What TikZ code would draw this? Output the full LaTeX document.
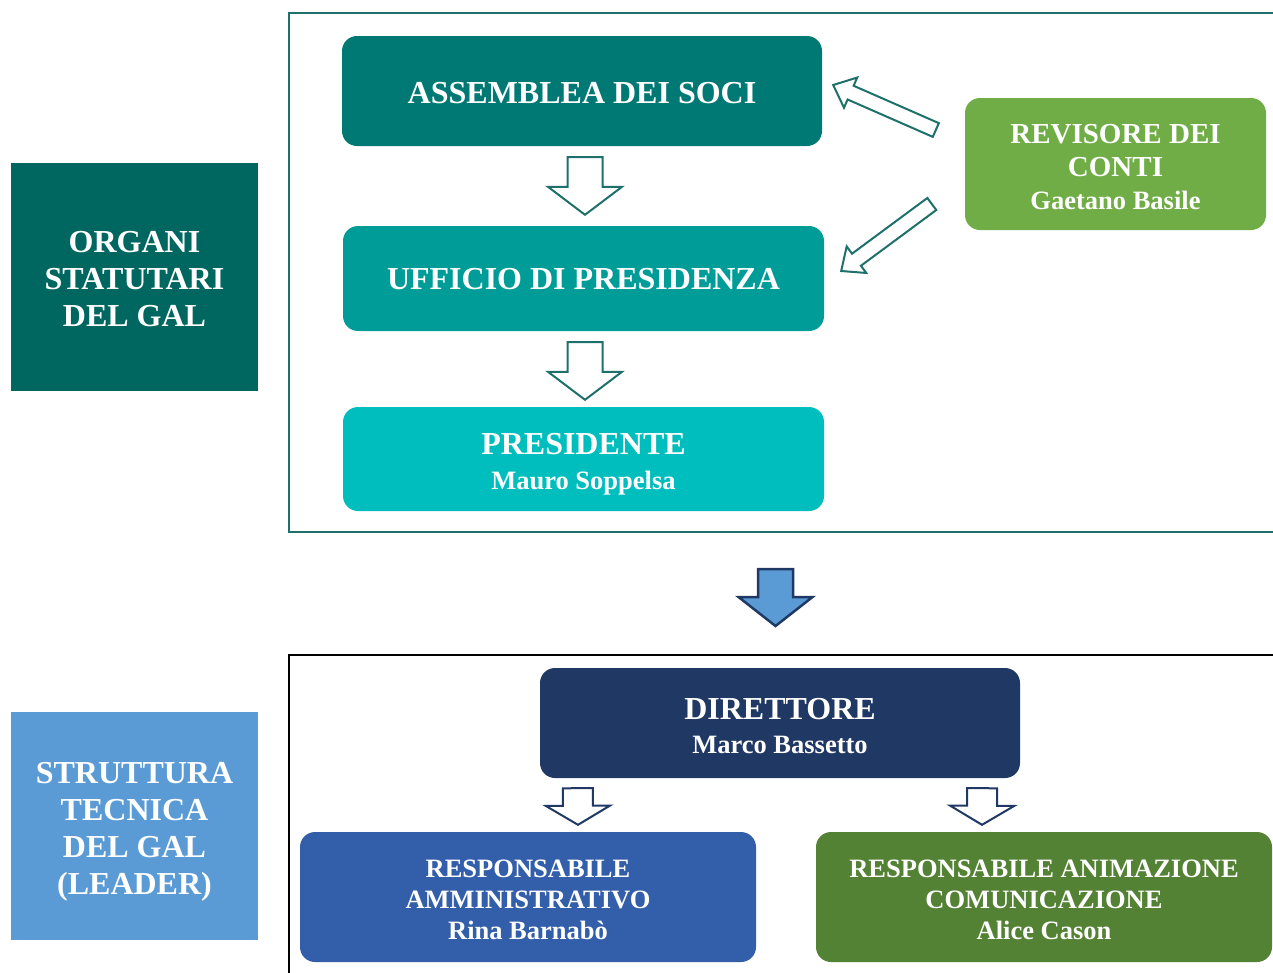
\documentclass[tikz,border=0pt]{standalone}
\usepackage{fontspec}
\setmainfont{Liberation Serif}
\usetikzlibrary{calc}
\definecolor{cOrg}{RGB}{0,103,96}
\definecolor{cAss}{RGB}{0,121,116}
\definecolor{cUff}{RGB}{0,157,152}
\definecolor{cPres}{RGB}{0,190,189}
\definecolor{cRev}{RGB}{112,173,71}
\definecolor{cFrame}{RGB}{30,112,107}
\definecolor{cStr}{RGB}{91,155,213}
\definecolor{cDir}{RGB}{32,56,100}
\definecolor{cAmm}{RGB}{51,95,170}
\definecolor{cAnim}{RGB}{84,130,53}
\newcommand{\blockarr}[6]{%
  \coordinate (bah) at ($(#3)!#6!(#2)$);
  \draw[#1] ($(#2)!#4!90:(#3)$) -- ($(bah)!#4!90:(#3)$) -- ($(bah)!#5!90:(#3)$) -- (#3)
    -- ($(bah)!#5!-90:(#3)$) -- ($(bah)!#4!-90:(#3)$) -- ($(#2)!#4!-90:(#3)$) -- cycle;}
\newcommand{\bigfs}{\fontsize{32}{37}\selectfont}
\newcommand{\smlfs}{\fontsize{26.5}{31}\selectfont}
\newcommand{\revfs}{\fontsize{29}{33}\selectfont}
\begin{document}
\begin{tikzpicture}[x=1pt,y=-1pt,
  box/.style={fill=#1,inner sep=0pt,rounded corners=15pt},
  side/.style={fill=#1,inner sep=0pt,minimum width=247pt,minimum height=228pt},
  txt/.style={text=white,font=\bfseries#1,align=center,inner sep=0pt},
  tealarr/.style={draw=cFrame,line width=2pt,fill=white,line join=miter},
  navyarr/.style={draw=cDir,line width=2pt,fill=white,line join=miter},
  bluearr/.style={draw=cDir,line width=2.5pt,fill=cStr,line join=miter}]
\useasboundingbox (0,0) rectangle (1273,972);
% frames
\draw[cFrame,line width=1.3pt] (1280,13) -- (289,13) -- (289,532) -- (1280,532);
\draw[black,line width=1.3pt] (1280,655) -- (289,655) -- (289,980);
% side labels
\node[side=cOrg] (org) at (134.5,277) {};
\node[txt=\bigfs] (orgT) at ($(org)+(0,2)$) {ORGANI\\STATUTARI\\DEL GAL};
\node[side=cStr] (str) at (134.5,826) {};
\node[txt=\bigfs] (strT) at ($(str)+(0,6)$) {STRUTTURA\\TECNICA\\DEL GAL\\(LEADER)};
% top boxes
\node[box=cAss,minimum width=480pt,minimum height=110pt] (ass) at (582,91) {};
\node[txt=\bigfs] (assT) at ($(ass)+(0,2)$) {ASSEMBLEA DEI SOCI};
\node[box=cUff,minimum width=481pt,minimum height=105pt] (uff) at (583.5,278.5) {};
\node[txt=\bigfs] (uffT) at ($(uff)+(0,1)$) {UFFICIO DI PRESIDENZA};
\node[box=cPres,minimum width=481pt,minimum height=104pt] (pres) at (583.5,459) {};
\node[txt=\bigfs] (presT) at ($(pres)+(0,5)$) {PRESIDENTE\\[-2pt]\smlfs Mauro Soppelsa};
\node[box=cRev,minimum width=301pt,minimum height=132pt] (rev) at (1115.5,164) {};
\node[txt=\revfs] (revT) at ($(rev)+(0,3)$) {REVISORE DEI\\CONTI\\\smlfs Gaetano Basile};
% bottom boxes
\node[box=cDir,minimum width=480pt,minimum height=110pt] (dir) at (780,723) {};
\node[txt=\bigfs] (dirT) at ($(dir)+(0,3.5)$) {DIRETTORE\\[-3pt]\smlfs Marco Bassetto};
\node[box=cAmm,minimum width=456pt,minimum height=130pt] (amm) at (528,897) {};
\node[txt=\smlfs] (ammT) at ($(amm)+(0,2.5)$) {RESPONSABILE\\AMMINISTRATIVO\\Rina Barnabò};
\node[box=cAnim,minimum width=456pt,minimum height=130pt] (anim) at (1044,897) {};
\node[txt=\smlfs] (animT) at ($(anim)+(0,2.5)$) {RESPONSABILE ANIMAZIONE\\COMUNICAZIONE\\Alice Cason};
% arrow coordinates
\coordinate (a1t) at ($(ass.south)+(3,11)$);
\coordinate (a1h) at ($(uff.north)+(1.5,-11)$);
\coordinate (a2t) at ($(uff.south)+(1.5,11)$);
\coordinate (a2h) at ($(pres.north)+(1.5,-7)$);
\coordinate (r1t) at ($(rev.west)+(-29,-34)$);
\coordinate (r1h) at ($(ass.east)+(11,-6)$);
\coordinate (r2t) at ($(rev.west)+(-33,40)$);
\coordinate (r2h) at ($(uff.east)+(17,-7.5)$);
\coordinate (bt) at (775.5,569);
\coordinate (bh) at (775.5,626);
\coordinate (d1t) at ($(dir.south west)+(38,10)$);
\coordinate (d1h) at ($(amm.north)+(50,-7)$);
\coordinate (d2t) at ($(dir.south east)+(-38,10)$);
\coordinate (d2h) at ($(anim.north)+(-62,-7)$);
\blockarr{tealarr}{a1t}{a1h}{17.5pt}{37pt}{28pt}
\blockarr{tealarr}{a2t}{a2h}{17.5pt}{37pt}{28pt}
\blockarr{tealarr}{r1t}{r1h}{7.5pt}{16.5pt}{19pt}
\blockarr{tealarr}{r2t}{r2h}{7.5pt}{16.5pt}{19pt}
\blockarr{bluearr}{bt}{bh}{17.5pt}{37pt}{29pt}
\blockarr{navyarr}{d1t}{d1h}{15pt}{32pt}{19pt}
\blockarr{navyarr}{d2t}{d2h}{15pt}{32pt}{19pt}
\end{tikzpicture}
\end{document}
